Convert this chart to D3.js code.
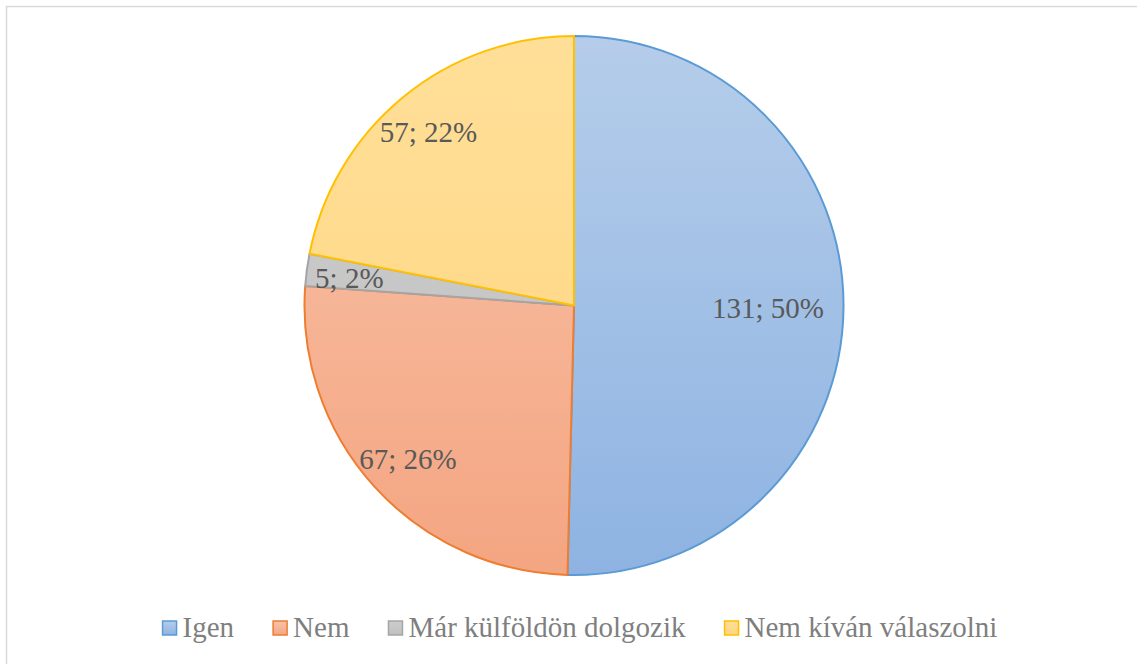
<!DOCTYPE html>
<html>
<head>
<meta charset="utf-8">
<script src="https://cdn.jsdelivr.net/npm/d3@7"></script>
</head>
<body style="margin:0">
<div id="chart"></div>
<script>
// answers
var categories = ["Igen", "Nem", "Már külföldön dolgozik", "Nem kíván válaszolni"];
var values = [131, 67, 5, 57];
var percentLabels = ["50%", "26%", "2%", "22%"];

var strokeColors = ["#5b9bd5", "#ed7d31", "#a5a5a5", "#ffc000"];
var topColors = ["#b5cdea", "#f8c4ab", "#cdcdcd", "#ffdf98"];
var bottomColors = ["#8eb3e2", "#f4a581", "#c0c0c0", "#ffd57f"];

var width = 1137, height = 664;
var cx = 574, cy = 305.5, r = 269.5;

var svg = d3.select("#chart")
  .append("svg")
  .attr("width", width)
  .attr("height", height)
  .style("display", "block");

// chart border (only top/left edges fall inside the window)
svg.append("rect")
  .attr("x", 6.5).attr("y", 6.5)
  .attr("width", width + 10).attr("height", height + 10)
  .attr("fill", "#fff")
  .attr("stroke", "#d9d9d9")
  .attr("stroke-width", 1.5);

var defs = svg.append("defs");
categories.forEach(function(c, i) {
  var g = defs.append("linearGradient")
    .attr("id", "grad" + i)
    .attr("gradientUnits", "userSpaceOnUse")
    .attr("x1", 0).attr("y1", -r)
    .attr("x2", 0).attr("y2", r);
  g.append("stop").attr("offset", "0%").attr("stop-color", topColors[i]);
  g.append("stop").attr("offset", "100%").attr("stop-color", bottomColors[i]);
  var lg = defs.append("linearGradient")
    .attr("id", "lgrad" + i)
    .attr("x1", 0).attr("y1", 0).attr("x2", 0).attr("y2", 1);
  lg.append("stop").attr("offset", "0%").attr("stop-color", topColors[i]);
  lg.append("stop").attr("offset", "100%").attr("stop-color", bottomColors[i]);
});

var pie = d3.pie().sort(null).value(function(d) { return d; });
var arcs = pie(values);
var total = d3.sum(values);

var arc = d3.arc().innerRadius(0).outerRadius(r);

var g = svg.append("g").attr("transform", "translate(" + cx + "," + cy + ")");

g.selectAll("path")
  .data(arcs)
  .enter()
  .append("path")
  .attr("d", arc)
  .attr("fill", function(d, i) { return "url(#grad" + i + ")"; })
  .attr("stroke", function(d, i) { return strokeColors[i]; })
  .attr("stroke-width", 2)
  .attr("stroke-linejoin", "round");

// data labels, roughly where excel's best fit puts them
function labelPos(d) {
  var big = d.value / total > 0.4;
  var a = (d.startAngle + d.endAngle) / 2 - (big ? 0 : 0.01);
  var k = big ? 0.72 : 0.84;
  return [Math.sin(a) * r * k, -Math.cos(a) * r * k];
}

g.selectAll("text.lbl")
  .data(arcs)
  .enter()
  .append("text")
  .attr("class", "lbl")
  .attr("x", function(d) { return labelPos(d)[0]; })
  .attr("y", function(d) { return labelPos(d)[1] + 10; })
  .attr("text-anchor", "middle")
  .style("font-family", "'Liberation Serif'")
  .attr("font-size", 29)
  .attr("fill", "#595959")
  .text(function(d, i) { return values[i] + "; " + percentLabels[i]; });

// legend
var legend = svg.append("g");
var x = 0;
categories.forEach(function(c, i) {
  var it = legend.append("g");
  it.append("rect")
    .attr("x", 1).attr("y", -16)
    .attr("width", 14).attr("height", 14)
    .attr("fill", "url(#lgrad" + i + ")")
    .attr("stroke", strokeColors[i])
    .attr("stroke-width", 1.5);
  var t = it.append("text")
    .attr("x", 21).attr("y", 0)
    .style("font-family", "'Liberation Serif'")
    .attr("font-size", 29)
    .attr("fill", "#7f7f7f")
    .text(c);
  var w = 21 + t.node().getComputedTextLength();
  it.attr("transform", "translate(" + x + ",0)");
  x += w + 38;
});
var legendW = x - 38;
legend.attr("transform", "translate(" + (579.5 - legendW / 2) + ",637)");
</script>
</body>
</html>
